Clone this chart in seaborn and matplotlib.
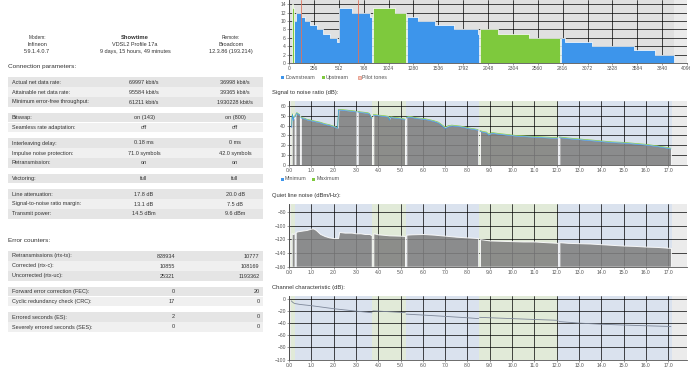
import numpy as np
import seaborn as sns
import matplotlib.pyplot as plt
from matplotlib.patches import Rectangle
from matplotlib.ticker import FormatStrFormatter

# ---------------- data ----------------
modem_info = ["Modem:", "Infineon", "5.9.1.4.0.7"]
line_info = ["Showtime", "VDSL2 Profile 17a", "9 days, 15 hours, 49 minutes"]
remote_info = ["Remote:", "Broadcom", "12.3.86 (193.214)"]

conn_labels = ["Actual net data rate:", "Attainable net data rate:", "Minimum error-free throughput:",
               "Bitswap:", "Seamless rate adaptation:",
               "Interleaving delay:", "Impulse noise protection:", "Retransmission:",
               "Vectoring:",
               "Line attenuation:", "Signal-to-noise ratio margin:", "Transmit power:"]
conn_down = ["69997 kbit/s", "95584 kbit/s", "61211 kbit/s", "on (143)", "off", "0.18 ms",
             "71.0 symbols", "on", "full", "17.8 dB", "13.1 dB", "14.5 dBm"]
conn_up = ["36998 kbit/s", "39365 kbit/s", "1930228 kbit/s", "on (800)", "off", "0 ms",
           "42.0 symbols", "on", "full", "20.0 dB", "7.5 dB", "9.6 dBm"]
conn_groups = [3, 2, 3, 1, 3]

err_labels = ["Retransmissions (rtx-tx):", "Corrected (rtx-c):", "Uncorrected (rtx-uc):",
              "Forward error correction (FEC):", "Cyclic redundancy check (CRC):",
              "Errored seconds (ES):", "Severely errored seconds (SES):"]
err_down = ["828934", "10855", "25321", "0", "17", "2", "0"]
err_up = ["10777", "108169", "1193362", "20", "0", "0", "0"]
err_groups = [3, 2, 2]

# bit loading per tone (step edges and bits)
ds_edges = [[55, 72, 120, 165, 216, 285, 354, 422, 491, 511, 645, 834, 851],
            [1219, 1332, 1504, 1693, 1950, 1960],
            [2801, 2842, 3117, 3546, 3769, 3958]]
ds_bits = [[10, 12, 11, 10, 9, 8, 7, 6, 5, 13, 12, 11],
           [11, 10, 9, 8, 7],
           [6, 5, 4, 3, 2]]
us_edges = [[28, 38, 55], [868, 1092, 1205], [1967, 2156, 2465, 2784]]
us_bits = [[14, 13], [13, 12], [8, 7, 6]]
pilot_tones = [120, 707]

# frequency bands (MHz)
band_edges = [0.0, 0.10, 0.27, 3.74, 5.23, 8.52, 12.08, 17.16, 17.84]
band_dir = ["none", "up", "down", "up", "down", "up", "down", "none"]

# SNR (dB) per segment
snr_freq = [[0.12, 0.14, 0.16, 0.19, 0.22, 0.25],
            [0.29, 0.33, 0.37, 0.42, 0.47, 0.49],
            [0.53, 0.6, 0.7, 0.8, 0.9, 1.0, 1.2, 1.4, 1.6, 1.8, 2.0, 2.1, 2.18, 2.22, 2.3, 2.5, 2.7, 2.9, 3.02],
            [3.08, 3.2, 3.4, 3.55, 3.62, 3.68, 3.72],
            [3.78, 3.9, 4.1, 4.3, 4.45, 4.5, 4.55, 4.7, 4.9, 5.05, 5.2],
            [5.26, 5.35, 5.5, 5.7, 5.9, 6.1, 6.3, 6.5, 6.7, 6.85, 7.0, 7.15, 7.3, 7.5, 7.7, 7.9, 8.1, 8.3, 8.48],
            [8.56, 8.7, 8.85, 8.95, 9.1, 9.4, 9.8, 10.2, 10.6, 11.0, 11.4, 11.8, 12.05],
            [12.12, 12.5, 13.0, 13.5, 14.0, 14.5, 15.0, 15.5, 16.0, 16.5, 16.9, 17.12]]
snr_max = [[40, 50, 52, 47, 49, 50],
           [50, 53, 53, 52, 51.5, 51],
           [49, 48, 47.5, 46.5, 46, 45.5, 44.5, 43.5, 42, 41, 39.5, 38.5, 38, 56.5, 56.5, 56, 55.5, 55, 54.5],
           [54.5, 54, 53.5, 53, 52, 49, 48],
           [51.5, 51, 50.5, 50, 49.5, 47, 49, 48.5, 48, 47.5, 46.5],
           [48.5, 49.5, 49, 48, 47.5, 47, 46, 45, 43.5, 41, 38.5, 40, 40.5, 40, 39.5, 38.5, 37.5, 36.8, 36],
           [35, 34, 33.5, 31.5, 33, 32, 31, 30, 29.5, 29, 28.5, 28, 28],
           [28.5, 27.5, 26.5, 25.5, 24.5, 23.5, 23, 22, 21, 19.5, 18, 17]]
snr_min = [[38, 49, 51, 45, 48, 49],
           [49, 52, 52.3, 51.2, 50.8, 50.2],
           [48.2, 47.2, 46.8, 45.8, 45.3, 44.8, 43.8, 42.8, 41.2, 40.2, 38.8, 37.8, 37.3, 55.6, 55.8, 55.2, 54.8, 54.3, 53.8],
           [53.8, 53.2, 52.8, 52.2, 51.2, 48.2, 47.2],
           [50.6, 50.2, 49.7, 49.2, 48.7, 45.5, 48.2, 47.7, 47.2, 46.7, 45.8],
           [47.7, 48.7, 48.2, 47.2, 46.7, 46.2, 45.2, 44.2, 42.5, 40, 37, 38.8, 39.6, 39.2, 38.7, 37.7, 36.7, 36, 35.2],
           [34.2, 33.2, 32.6, 30.2, 32.2, 31.2, 30.2, 29.2, 28.7, 28.2, 27.7, 27.2, 27.2],
           [27.7, 26.7, 25.7, 24.7, 23.7, 22.7, 22.2, 21.2, 20.2, 18.7, 17.2, 16.2]]

# quiet line noise (dBm/Hz)
qln_freq = [[0.12, 0.18, 0.25],
            [0.30, 0.4, 0.6, 0.8, 1.0, 1.1, 1.2, 1.3, 1.4, 1.6, 1.8, 2.0, 2.2, 2.25, 2.5, 2.8, 3.0, 3.2, 3.4, 3.6, 3.71],
            [3.78, 4.0, 4.5, 5.0, 5.2],
            [5.26, 5.5, 6.0, 6.5, 7.0, 7.5, 8.0, 8.48],
            [8.56, 9.0, 9.5, 10.0, 10.5, 11.0, 11.5, 12.05],
            [12.12, 12.5, 13.0, 13.5, 14.0, 14.5, 15.0, 15.5, 16.0, 16.5, 17.12]]
qln_val = [[-111, -112, -111],
           [-109, -108, -107, -106, -104, -104, -106, -109, -112, -115, -117, -118, -118, -109, -110, -110, -111, -111, -112, -112, -114],
           [-111, -112.5, -114, -114.5, -115],
           [-113, -112.5, -112, -113, -114.5, -116, -117, -118],
           [-119.5, -121.5, -122, -122.5, -123, -123, -124, -125],
           [-124, -125, -125.5, -126, -127, -128, -129, -129.5, -130.5, -131, -132.5]]

# channel characteristic (dB)
hlog_freq = [[0.10, 0.17, 0.25],
             [0.27, 0.5, 1.0, 1.5, 2.0, 2.5, 3.0, 3.5, 3.72],
             [3.76, 4.5, 5.21],
             [5.25, 6.0, 7.0, 8.0, 8.5],
             [8.54, 10.0, 11.0, 12.06],
             [12.1, 13.0, 14.0, 15.0, 16.0, 17.12]]
hlog_val = [[-3, -5.5, -7.5],
            [-7.5, -9, -11, -13.5, -16, -18, -20, -21.8, -22.7],
            [-19.5, -21, -22.5],
            [-25, -26.5, -28.7, -31, -32.4],
            [-30.3, -32.4, -33.8, -35.2],
            [-37.3, -39.8, -41.7, -43, -44.2, -45.4]]

# ---------------- style ----------------
sns.set_theme(style="white", context="paper")
plt.rcParams["font.family"] = ["Liberation Sans", "DejaVu Sans"]

W, H = 690, 367
fig = plt.figure(figsize=(W / 100, H / 100), dpi=100)
fig.patch.set_facecolor("white")

text_col = "#333333"
tick_col = "#545454"
ds_col = "#3d95eb"
us_col = "#7ec93d"
pilot_col = "#de735c"
band_col = {"down": "#dae2ee", "up": "#e1ead8", "none": "#ebebeb"}


def fx(x):
    return x / W


def fy(y):
    return 1 - y / H


def put(x, y, s, **kw):
    kw.setdefault("fontsize", 4.0)
    kw.setdefault("color", text_col)
    kw.setdefault("va", "center")
    fig.text(fx(x), fy(y), s, **kw)


def box(x, y, w, h, **kw):
    fig.patches.append(Rectangle((fx(x), fy(y + h)), w / W, h / H,
                                 transform=fig.transFigure, **kw))


def new_axes(left, top, right, bottom):
    ax = fig.add_axes([fx(left), fy(bottom), (right - left) / W, (bottom - top) / H])
    ax.set_facecolor("white")
    for side in ["top", "right"]:
        ax.spines[side].set_visible(False)
    for side in ["left", "bottom"]:
        ax.spines[side].set_color(tick_col)
        ax.spines[side].set_linewidth(0.6)
    ax.tick_params(labelsize=3.6, colors=tick_col, length=1.2, width=0.4, pad=1.0,
                   left=True, bottom=True)
    ax.set_axisbelow("line")
    ax.grid(True, color=(0, 0, 0, 0.06), lw=0.5)
    ax.margins(0)
    return ax


# ---------------- left panel ----------------
for cx, lines in [(37, modem_info), (135, line_info), (231, remote_info)]:
    for i, s in enumerate(lines):
        bold = lines is line_info and i == 0
        size = 3.4 if (i == 0 and not bold) else (4.2 if bold else 4.0)
        put(cx, [37.7, 44.3, 51.3][i], s, ha="center", fontsize=size,
            weight="bold" if bold else "normal")

put(8.5, 66.7, "Connection parameters:", fontsize=4.6)
put(8.5, 240, "Error counters:", fontsize=4.6)


def draw_table(labels, down, up, groups, y0, c1, c2, ha):
    y, idx = y0, 0
    for g in groups:
        for k in range(g):
            shade = "#e5e5e5" if k % 2 == 0 else "#f0f0f0"
            box(8, y - 4.6, 255, 9.3, color=shade, lw=0)
            put(11.5, y, labels[idx])
            put(c1, y, down[idx], ha=ha)
            put(c2, y, up[idx], ha=ha)
            y += 10
            idx += 1
        y += 5.5


draw_table(conn_labels, conn_down, conn_up, conn_groups, 82, 144, 235, "center")
draw_table(err_labels, err_down, err_up, err_groups, 256, 175, 259.5, "right")

# ---------------- bit loading ----------------
ax = new_axes(289, 0, 687, 63)
ax.axvspan(0, 3965, color="#e0e0e0", lw=0, zorder=0.5)
ax.axvspan(3965, 4096, color="#ebebeb", lw=0, zorder=0.5)
for edges, bits in zip(ds_edges, ds_bits):
    ax.fill_between(edges, list(bits) + [bits[-1]], step="post", color=ds_col,
                    ec="white", lw=0.5, zorder=2)
for edges, bits in zip(us_edges, us_bits):
    ax.fill_between(edges, list(bits) + [bits[-1]], step="post", color=us_col,
                    ec="white", lw=0.5, zorder=2)
for t in pilot_tones:
    ax.axvline(t, color=pilot_col, lw=0.6, zorder=3)
ax.set_xlim(0, 4096)
ax.set_ylim(0, 15)
ax.set_xticks(np.arange(0, 4097, 256))
ax.set_yticks(np.arange(0, 15, 2))

# legend for bit loading
for x0, col, name in [(281, ds_col, "Downstream"), (321.5, us_col, "Upstream"), (357.5, pilot_col, "Pilot tones")]:
    if name == "Pilot tones":
        box(x0, 75.8, 3, 3, fc="#f4c6bb", ec=col, lw=0.4)
    else:
        box(x0, 75.8, 3, 3, color=col, lw=0)
    put(x0 + 4.5, 77.3, name, fontsize=3.8, color=tick_col)


# ---------------- MHz charts ----------------
def band_axes(top, bottom):
    a = new_axes(289, top, 687, bottom)
    for lo, hi, d in zip(band_edges[:-1], band_edges[1:], band_dir):
        a.axvspan(lo, hi, color=band_col[d], lw=0, zorder=0.5)
    a.set_xlim(band_edges[0], band_edges[-1])
    a.set_xticks(np.arange(0, 18, 1.0))
    a.xaxis.set_major_formatter(FormatStrFormatter("%.1f"))
    return a


put(272, 92.7, "Signal to noise ratio (dB):", fontsize=4.2)
ax = band_axes(101, 165)
for f, mx, mn in zip(snr_freq, snr_max, snr_min):
    ax.fill_between(f, mx, 0, color="#808080", alpha=0.88, ec="white", lw=0.7, zorder=2)
    sns.lineplot(x=f, y=mx, ax=ax, color=us_col, lw=0.5, zorder=3, legend=False)
    sns.lineplot(x=f, y=mn, ax=ax, color=ds_col, lw=0.5, zorder=3.1, legend=False)
ax.set_ylim(0, 65)
ax.set_yticks(np.arange(0, 61, 10))

for x0, col, name in [(280.5, ds_col, "Minimum"), (312, us_col, "Maximum")]:
    box(x0, 177.5, 3, 3, color=col, lw=0)
    put(x0 + 4.5, 179, name, fontsize=3.8, color=tick_col)

put(272, 195, "Quiet line noise (dBm/Hz):", fontsize=4.2)
ax = band_axes(204, 266.7)
for f, v in zip(qln_freq, qln_val):
    ax.fill_between(f, v, -160, color="#808080", alpha=0.88, ec="white", lw=0.7, zorder=2)
ax.set_ylim(-160, -68)
ax.set_yticks(np.arange(-160, -79, 20))

put(272, 287, "Channel characteristic (dB):", fontsize=4.2)
ax = band_axes(296, 359.5)
for f, v in zip(hlog_freq, hlog_val):
    sns.lineplot(x=f, y=v, ax=ax, color="#7d8799", lw=0.6, zorder=3, legend=False)
ax.set_ylim(-100, 5)
ax.set_yticks(np.arange(-100, 1, 20))

fig.savefig("out.png", dpi=100, facecolor="white")
